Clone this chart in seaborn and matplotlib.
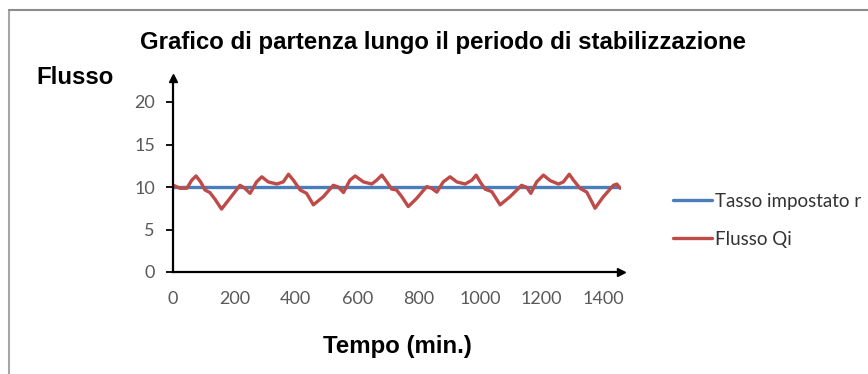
import matplotlib
matplotlib.use("Agg")
import matplotlib.pyplot as plt
import seaborn as sns
import pandas as pd
from matplotlib.lines import Line2D

# ---- data ----
time_r = [0, 1455]
rate_r = [10, 10]

time_q = [1, 23, 45, 61, 75, 90, 104, 120, 137, 158, 186, 218, 234, 251, 272, 289,
          310, 338, 359, 376, 392, 414, 435, 457, 489, 522, 538, 555, 576, 593, 620,
          647, 663, 680, 696, 712, 728, 745, 766, 793, 826, 842, 859, 880, 902, 924,
          951, 973, 987, 1000, 1016, 1038, 1065, 1097, 1135, 1152, 1165, 1184, 1206,
          1228, 1255, 1271, 1290, 1304, 1325, 1347, 1363, 1374, 1401, 1434, 1445, 1456]
flow_q = [10.2, 9.85, 9.85, 10.8, 11.3, 10.6, 9.65, 9.35, 8.55, 7.4, 8.7, 10.2, 9.85,
          9.25, 10.6, 11.2, 10.6, 10.35, 10.6, 11.5, 10.8, 9.65, 9.25, 7.9, 8.85, 10.2,
          10.0, 9.35, 10.8, 11.3, 10.6, 10.35, 10.8, 11.4, 10.6, 9.75, 9.65, 8.85, 7.7,
          8.65, 10.05, 9.85, 9.4, 10.6, 11.2, 10.6, 10.35, 10.8, 11.4, 10.6, 9.75, 9.45,
          7.9, 8.85, 10.2, 9.95, 9.25, 10.6, 11.4, 10.75, 10.35, 10.6, 11.5, 10.8, 9.85,
          9.4, 8.3, 7.5, 8.85, 10.2, 10.35, 9.85]

x_ticks = [0, 200, 400, 600, 800, 1000, 1200, 1400]
y_ticks = [0, 5, 10, 15, 20]

title = "Grafico di partenza lungo il periodo di stabilizzazione"
y_label = "Flusso"
x_label = "Tempo (min.)"
name_r = "Tasso impostato r"
name_q = "Flusso Qi"

# ---- figure ----
sns.set_theme(style="white")
plt.rcParams["font.family"] = ["Liberation Sans", "DejaVu Sans"]

W, H = 868, 374
fig = plt.figure(figsize=(W / 100, H / 100), dpi=100)
fig.patch.set_facecolor("white")

x0, x1 = 173, 621   # axes pixel extents
yb, yt = 272, 78
ax = fig.add_axes([x0 / W, 1 - yb / H, (x1 - x0) / W, (yb - yt) / H])
ax.set_facecolor("none")

px_per_min = (603 - 173) / 1400
px_per_unit = 8.5
ax.set_xlim(0, (x1 - x0) / px_per_min)
ax.set_ylim(0, (yb - yt) / px_per_unit)

blue = "#4A7EBB"
red = "#BE4B48"

df_r = pd.DataFrame({"t": time_r, "v": rate_r})
df_q = pd.DataFrame({"t": time_q, "v": flow_q})
sns.lineplot(data=df_r, x="t", y="v", ax=ax, color=blue, lw=2.4, label=name_r,
             legend=False, solid_capstyle="butt")
sns.lineplot(data=df_q, x="t", y="v", ax=ax, color=red, lw=2.4, label=name_q,
             legend=False, solid_joinstyle="round")

for s in ["top", "right"]:
    ax.spines[s].set_visible(False)
for s in ["left", "bottom"]:
    ax.spines[s].set_color("black")
    ax.spines[s].set_linewidth(1.6)

# arrowheads
ax.plot(1, 0, ">", color="black", ms=6, transform=ax.get_yaxis_transform(), clip_on=False)
ax.plot(0, 1, "^", color="black", ms=6, transform=ax.get_xaxis_transform(), clip_on=False)

tick_font = ["Lato", "DejaVu Sans"]
ax.set_xticks(x_ticks)
ax.set_yticks(y_ticks)
ax.set_xticklabels([str(v) for v in x_ticks], family=tick_font,
                   fontsize=13, color="#595959")
ax.set_yticklabels([str(v) for v in y_ticks], family=tick_font,
                   fontsize=13, color="#595959")
ax.tick_params(axis="y", direction="out", length=5, width=1.3, color="black", pad=8, left=True)
ax.tick_params(axis="x", direction="out", length=0, pad=14, bottom=True)
ax.set_xlabel("")
ax.set_ylabel("")

fig.text(443 / W, 1 - 42 / H, title, ha="center", va="center",
         fontsize=17.3, fontweight="bold", color="black")
fig.text(75 / W, 1 - 78 / H, y_label, ha="center", va="center",
         fontsize=17.3, fontweight="bold", color="black")
fig.text(397 / W, 1 - 346 / H, x_label, ha="center", va="center",
         fontsize=17.3, fontweight="bold", color="black")

# legend
handles = [Line2D([], [], color=blue, lw=2.4), Line2D([], [], color=red, lw=2.4)]
fig.legend(handles, [name_r, name_q], loc="upper left",
           bbox_to_anchor=(673 / W, 1 - 193 / H), frameon=False,
           prop={"family": tick_font, "size": 13.5},
           labelcolor="#333333", handlelength=2.1, handletextpad=0.12,
           labelspacing=1.12, borderaxespad=0, borderpad=0)

# outer frame (left and top)
fig.add_artist(Line2D([9 / W, 9 / W], [0, 1 - 10 / H], color="#A6A6A6", lw=1.5,
                      transform=fig.transFigure))
fig.add_artist(Line2D([9 / W, 1], [1 - 10 / H, 1 - 10 / H], color="#8C8C8C", lw=1.5,
                      transform=fig.transFigure))

fig.savefig("out.png", dpi=100, facecolor="white")
